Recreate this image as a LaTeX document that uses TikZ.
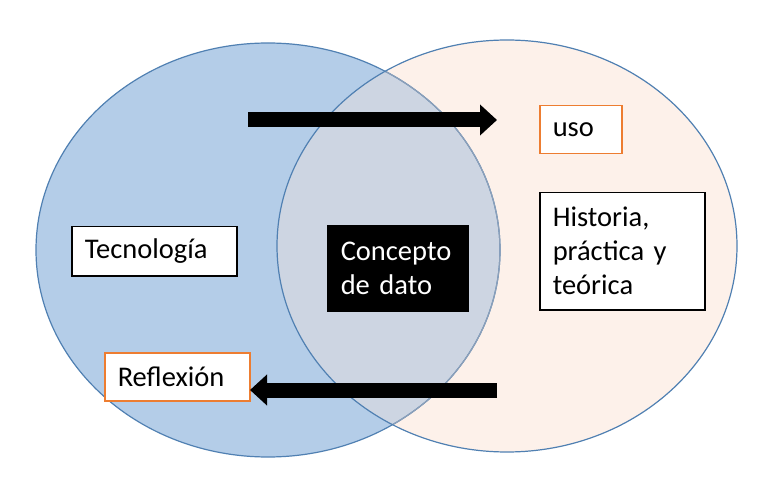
\documentclass[tikz,border=0pt]{standalone}
\usepackage{fontspec}
\setmainfont{Carlito}
\usetikzlibrary{arrows.meta}
\newcommand\vennboxfont{\fontsize{28.5bp}{34bp}\selectfont\spaceskip=0.2em\relax}
\definecolor{leftfill}{RGB}{180,205,232}
\definecolor{rightfill}{RGB}{253,241,234}
\definecolor{overlapfill}{RGB}{205,213,226}
\definecolor{rim}{RGB}{80,128,178}
\definecolor{innerrim}{RGB}{140,160,185}
\definecolor{orangeline}{RGB}{237,125,49}
\tikzset{
  txtbox/.style={rectangle, draw=black, line width=1.5bp, fill=white, inner xsep=13bp, inner ysep=0pt,
    align=left, anchor=north west, text=black, font=\vennboxfont},
  orangebox/.style={txtbox, draw=orangeline},
  darkbox/.style={txtbox, fill=black, text=white},
  blockarrow/.style={line width=15bp, black, -{Triangle[length=17bp,width=30bp]}}
}
\begin{document}
\begin{tikzpicture}[x=1bp,y=-1bp]
\useasboundingbox (0,0) rectangle (759,481);
% circles
\fill[leftfill] (268,250) ellipse [x radius=232, y radius=207];
\fill[rightfill] (507,246) ellipse [x radius=230, y radius=206];
\begin{scope}
  \clip (507,246) ellipse [x radius=230, y radius=206];
  \fill[overlapfill] (268,250) ellipse [x radius=232, y radius=207];
\end{scope}
\draw[rim, line width=1.2bp] (268,250) ellipse [x radius=232, y radius=207];
\begin{scope}
  \clip (507,246) ellipse [x radius=230, y radius=206];
  \draw[innerrim, line width=1.2bp] (268,250) ellipse [x radius=232, y radius=207];
\end{scope}
\draw[rim, line width=1.2bp] (507,246) ellipse [x radius=230, y radius=206];
% boxes
\node[txtbox, text width=139bp, minimum height=49bp] (tec) at (71,226) {Tecnología};
\node[darkbox, text width=114bp, minimum height=85bp] (con) at (327,225) {Concepto\\de dato};
\node[orangebox, text width=56bp, minimum height=48bp] (uso) at (539,105) {uso};
\node[txtbox, text width=139bp, minimum height=117bp] (his) at (539,192) {Historia,\\práctica y\\teórica};
\node[orangebox, text width=119bp, minimum height=48bp] (ref) at (104,352) {Reflexión};
% arrows
\coordinate (a1s) at (248,120);
\coordinate (a1e) at (497,120);
\coordinate (a2s) at (497,390);
\coordinate (a2e) at (250,390);
\draw[blockarrow] (a1s) -- (a1e);
\draw[blockarrow] (a2s) -- (a2e);
\end{tikzpicture}
\end{document}
